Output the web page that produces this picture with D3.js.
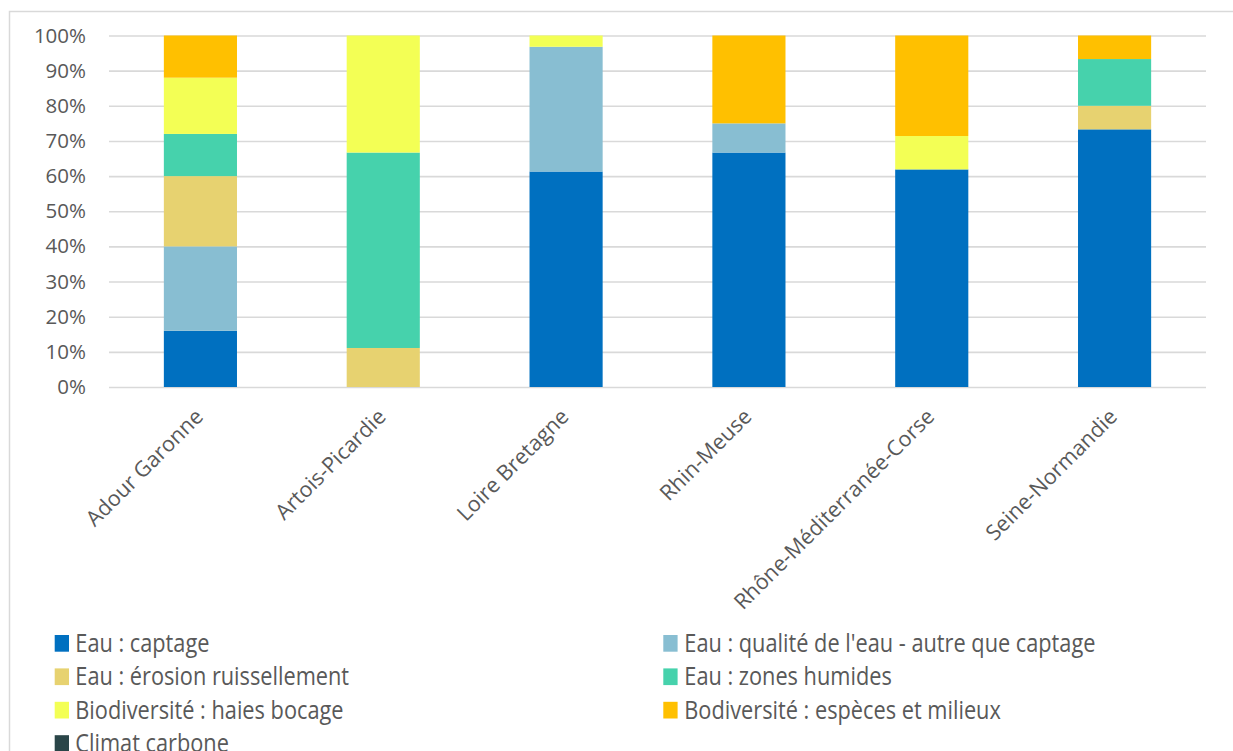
<!DOCTYPE html>
<html>
<head>
<meta charset="utf-8">
<script src="https://cdn.jsdelivr.net/npm/d3@7"></script>
<style>
  html, body { margin: 0; padding: 0; background: #fff; }
  svg { display: block; font-family: "Open Sans", "Noto Sans", sans-serif; }
</style>
</head>
<body>
<svg id="chart" width="1233" height="751"></svg>
<script>
// Agences de l'eau (river basins)
const categories = [
  "Adour Garonne", "Artois-Picardie", "Loire Bretagne",
  "Rhin-Meuse", "Rhône-Méditerranée-Corse", "Seine-Normandie"
];

// Share of projects per theme, in % of each basin (stacked bottom to top)
const eauCaptage        = [16.0, 0.0,  61.3, 66.7, 61.9, 73.3];
const eauQualite        = [24.0, 0.0,  35.5, 8.3,  0.0,  0.0];
const eauErosion        = [20.0, 11.1, 0.0,  0.0,  0.0,  6.7];
const eauZonesHumides   = [12.0, 55.6, 0.0,  0.0,  0.0,  13.3];
const bioHaiesBocage    = [16.0, 33.3, 3.2,  0.0,  9.5,  0.0];
const bioEspeces        = [12.0, 0.0,  0.0,  25.0, 28.6, 6.7];
const climatCarbone     = [0.0,  0.0,  0.0,  0.0,  0.0,  0.0];

const seriesNames = [
  "Eau : captage",
  "Eau : qualité de l'eau - autre que captage",
  "Eau : érosion ruissellement",
  "Eau : zones humides",
  "Biodiversité : haies bocage",
  "Bodiversité : espèces et milieux",
  "Climat carbone"
];
const seriesValues = [eauCaptage, eauQualite, eauErosion, eauZonesHumides,
                      bioHaiesBocage, bioEspeces, climatCarbone];
const seriesColors = ["#0070C0", "#88BED2", "#E7D270", "#46D2AC",
                      "#F3FF55", "#FFC000", "#2A4548"];

const yTicks = [0, 10, 20, 30, 40, 50, 60, 70, 80, 90, 100];

// Build table rows for d3.stack
const rows = categories.map((c, i) => {
  const r = { category: c };
  seriesNames.forEach((s, k) => { r[s] = seriesValues[k][i]; });
  return r;
});
const stacked = d3.stack().keys(seriesNames)(rows);

const svg = d3.select("#chart");
const textColor = "#595959";
const gridColor = "#D9D9D9";

// Outer chart frame
svg.append("rect")
  .attr("x", 9.5).attr("y", 11.5)
  .attr("width", 1300).attr("height", 900)
  .attr("fill", "#fff")
  .attr("stroke", gridColor).attr("stroke-width", 1.5);

const x = d3.scaleBand().domain(categories).range([109, 1206])
  .paddingInner(0.6).paddingOuter(0.3);
const y = d3.scaleLinear().domain([0, 100]).range([387, 35.5]);

// Horizontal gridlines + y axis labels
const yAxis = d3.axisLeft(y).tickValues(yTicks)
  .tickFormat(d => d + "%").tickSize(-(1206 - 109)).tickPadding(23);
const gy = svg.append("g").attr("transform", "translate(109,0)").call(yAxis);
gy.select(".domain").remove();
gy.selectAll(".tick line").attr("stroke", gridColor).attr("stroke-width", 1.6);
gy.selectAll(".tick text")
  .attr("fill", textColor).attr("font-size", 20.5)
  .attr("font-family", "'Open Sans', sans-serif");

// Stacked bars
svg.append("g").selectAll("g")
  .data(stacked)
  .join("g")
  .attr("fill", (d, i) => seriesColors[i])
  .selectAll("rect")
  .data(d => d)
  .join("rect")
  .attr("x", d => x(d.data.category))
  .attr("width", x.bandwidth())
  .attr("y", d => y(d[1]))
  .attr("height", d => y(d[0]) - y(d[1]));

// Category axis, labels rotated 45°
const xAxis = d3.axisBottom(x).tickSize(0).tickPadding(0);
const gx = svg.append("g").attr("transform", "translate(0,387)").call(xAxis);
gx.select(".domain").remove();
gx.selectAll(".tick text")
  .attr("fill", textColor).attr("font-size", 21.5)
  .attr("font-family", "'Open Sans', sans-serif")
  .attr("text-anchor", "end")
  .attr("dy", 0)
  .attr("transform", "translate(4,31) rotate(-45)");

// Legend, two columns (text set in a slightly condensed width)
const legendMarkX = [54.7, 663.3];
const legendTextX = [75.3, 684.3];
const legendY0 = 643.3, legendStep = 33.4;
const legend = svg.append("g");
seriesNames.forEach((name, i) => {
  const col = i % 2, row = Math.floor(i / 2);
  const cy = legendY0 + row * legendStep;
  legend.append("rect")
    .attr("x", legendMarkX[col]).attr("y", cy - 8.3)
    .attr("width", 14.3).attr("height", 16.7)
    .attr("fill", seriesColors[i]);
  legend.append("text")
    .attr("transform", `translate(${legendTextX[col]},${cy + 8.4}) scale(0.87,1)`)
    .attr("fill", textColor).attr("font-size", 25)
    .attr("font-family", "'Open Sans', sans-serif")
    .text(name);
});
</script>
</body>
</html>
